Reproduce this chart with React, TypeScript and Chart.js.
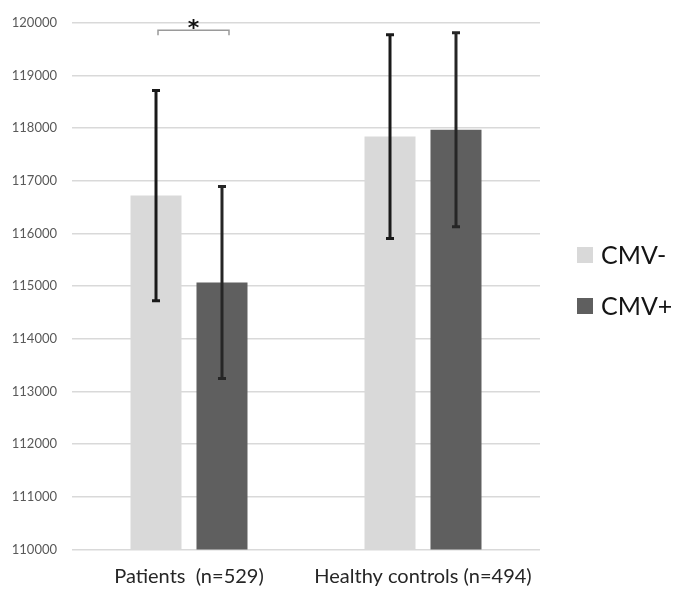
import React, { useEffect, useRef } from "react";
import { Chart, registerables } from "chart.js";

Chart.register(...registerables);

const categories = ["Patients  (n=529)", "Healthy controls (n=494)"];
const seriesNames = ["CMV-", "CMV+"];
const cmvNegMeans = [116720, 117840];
const cmvPosMeans = [115070, 117970];
const cmvNegErr = [1995, 1935];
const cmvPosErr = [1822, 1840];
const seriesColors = ["#d9d9d9", "#5f5f5f"];
const yMin = 110000;
const yMax = 120000;
const yStep = 1000;

const errorBarPlugin = {
  id: "errorBars",
  afterDatasetsDraw(chart: any) {
    const ctx = chart.ctx;
    const y = chart.scales.y;
    const errs = [cmvNegErr, cmvPosErr];
    const means = [cmvNegMeans, cmvPosMeans];
    ctx.save();
    for (let d = 0; d < 2; d++) {
      const meta = chart.getDatasetMeta(d);
      meta.data.forEach((bar: any, i: number) => {
        const x = bar.x;
        const top = y.getPixelForValue(means[d][i] + errs[d][i]);
        const bot = y.getPixelForValue(means[d][i] - errs[d][i]);
        ctx.strokeStyle = d === 0 ? "#1a1a1a" : "#262626";
        ctx.lineWidth = 3;
        ctx.beginPath();
        ctx.moveTo(x, top);
        ctx.lineTo(x, bot);
        ctx.stroke();
        ctx.beginPath();
        ctx.moveTo(x - 4, top);
        ctx.lineTo(x + 4, top);
        ctx.moveTo(x - 4, bot);
        ctx.lineTo(x + 4, bot);
        ctx.stroke();
      });
    }
    // significance bracket
    const b0 = chart.getDatasetMeta(0).data[0];
    const b1 = chart.getDatasetMeta(1).data[0];
    const left = b0.x + 2;
    const right = b1.x + 7;
    const by = chart.chartArea.top + 7.5;
    ctx.strokeStyle = "#9a9a9a";
    ctx.lineWidth = 1.5;
    ctx.beginPath();
    ctx.moveTo(left, by + 5);
    ctx.lineTo(left, by);
    ctx.lineTo(right, by);
    ctx.lineTo(right, by + 5);
    ctx.stroke();
    ctx.fillStyle = "#111";
    ctx.font = "bold 22px 'DejaVu Sans'";
    ctx.textAlign = "center";
    ctx.textBaseline = "alphabetic";
    ctx.fillText("*", (left + right) / 2, by + 5);
    // legend
    const lx = 577;
    const ly = [255, 306];
    ctx.textAlign = "left";
    ctx.textBaseline = "middle";
    ctx.font = "25px Lato";
    for (let d = 0; d < 2; d++) {
      ctx.fillStyle = seriesColors[d];
      ctx.fillRect(lx, ly[d] - 8, 16, 16);
      ctx.fillStyle = "#141414";
      ctx.fillText(seriesNames[d], lx + 24, ly[d] + 1);
    }
    ctx.restore();
  },
};

export default function App() {
  const ref = useRef<HTMLCanvasElement>(null);
  useEffect(() => {
    if (!ref.current) return;
    const chart = new Chart(ref.current, {
      type: "bar",
      data: {
        labels: categories,
        datasets: [
          { label: seriesNames[0], data: cmvNegMeans, backgroundColor: seriesColors[0] },
          { label: seriesNames[1], data: cmvPosMeans, backgroundColor: seriesColors[1] },
        ],
      },
      options: {
        responsive: false,
        animation: false,
        layout: { padding: { top: 22.5, right: 135, left: 0, bottom: 0 } },
        categoryPercentage: 0.564,
        barPercentage: 0.773,
        plugins: { legend: { display: false }, tooltip: { enabled: false } },
        scales: {
          x: {
            grid: { display: false, drawTicks: false },
            border: { display: false },
            ticks: { color: "#262626", font: { size: 20, family: "Lato" }, padding: 15 },
            afterFit(scale: any) {
              scale.height = 39.5;
            },
          },
          y: {
            min: yMin,
            max: yMax,
            grid: { color: "#d9d9d9", lineWidth: 1.5, drawTicks: false },
            border: { display: false },
            ticks: {
              stepSize: yStep,
              color: "#595959",
              font: { size: 13, family: "Lato" },
              padding: 15,
              callback: (v: any) => String(v),
            },
            afterFit(scale: any) {
              scale.width = 72;
            },
          },
        },
      } as any,
      plugins: [errorBarPlugin],
    });
    return () => chart.destroy();
  }, []);
  return (
    <div style={{ position: "fixed", left: 0, top: 0, width: 675, height: 589, background: "#fff" }}>
      <canvas ref={ref} width={675} height={589} />
    </div>
  );
}
